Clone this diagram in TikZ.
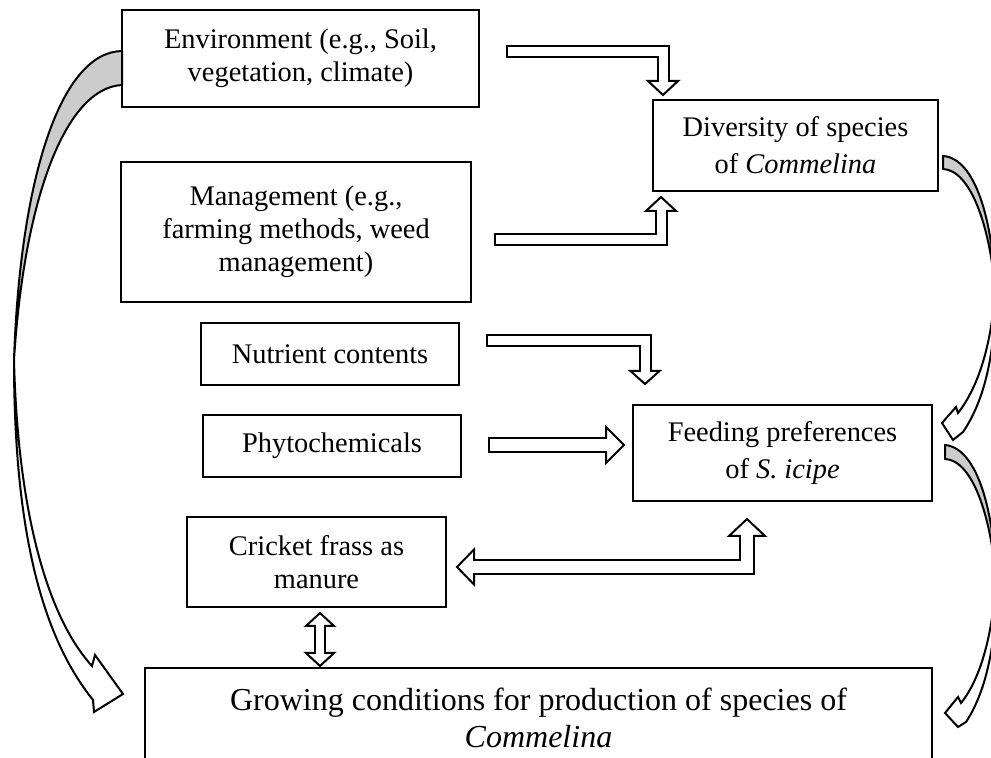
\documentclass[tikz,border=0pt]{standalone}
\usepackage{fontspec}
\setmainfont{Liberation Serif}
\usetikzlibrary{calc,positioning}

\tikzset{
  factor/.style={draw, line width=1pt, align=center, inner sep=0pt, font=\fontsize{14.2}{16.5}\selectfont},
  factorit/.style={factor, font=\fontsize{14.2}{18.5}\selectfont},
  blkhead/.style={draw, fill=white, line width=1pt, line join=miter},
  shaftout/.style={draw=black, line width=#1, line join=miter},
  shaftin/.style={draw=white, line width=#1, line join=miter, shorten <=1pt, shorten >=-1.5pt},
  shaftinboth/.style={shaftin=#1, shorten <=-1.5pt},
  backface/.style={draw, line width=1pt, line join=round, fill=gray!40},
  frontface/.style={draw, line width=1pt, line join=miter, fill=white}
}
% hollow block arrow: head at a point, then shaft
\newcommand{\bhead}[4]{\draw[blkhead, shift={(#1)}, rotate=#2] (0,-#3) -- (#4,0) -- (0,#3) -- cycle;}
\newcommand{\bshaft}[3]{\draw[shaftout=#1] #3; \draw[shaftin=#2] #3;}
\newcommand{\bshafttwo}[3]{\draw[shaftout=#1] #3; \draw[shaftinboth=#2] #3;}

\begin{document}
\begin{tikzpicture}[x=0.5pt,y=-0.5pt]
  \clip (0,0) rectangle (991,758);

  % factors
  \node[factor, minimum width=178.5pt, minimum height=48.5pt] (env) at (300.5,58.5)
    {Environment (e.g., Soil,\\vegetation, climate)};
  \node[factor, minimum width=175pt, minimum height=70pt] (mgmt) at (296,232)
    {Management (e.g.,\\farming methods, weed\\management)};
  \node[factorit, minimum width=142.5pt, minimum height=45.5pt] (div) at (795.5,145.5)
    {Diversity of species\\of \textit{Commelina}};
  \node[factor, minimum width=129pt, minimum height=31pt] (nutr) at (330,354)
    {Nutrient contents};
  \node[factor, minimum width=129pt, minimum height=31pt] (phyto) at (332,446)
    {Phytochemicals};
  \node[factor, minimum width=129.5pt, minimum height=45pt] (cricket) at (316.5,562)
    {Cricket frass as\\manure};
  \node[factorit, minimum width=149.5pt, minimum height=48pt] (feed) at (782.5,453)
    {Feeding preferences\\of \textit{S. icipe}};
  \node[factor, font=\fontsize{16}{18.5}\selectfont, minimum width=393.5pt, minimum height=50pt] (grow) at (538.5,718)
    {Growing conditions for production of species of\\\textit{Commelina}};

  % block arrows
  \coordinate (a1s) at ($(env.east)+(26,-7)$);
  \coordinate (a1e) at ($(div.north west)+(11,-18)$);
  \bhead{a1e}{-90}{15}{14}
  \bshaft{6.5pt}{4.5pt}{(a1s) -| (a1e)}

  \coordinate (a2s) at ($(mgmt.east)+(22,8)$);
  \coordinate (a2e) at ($(div.south west)+(9,19)$);
  \bhead{a2e}{90}{15}{14}
  \bshaft{6.5pt}{4.5pt}{(a2s) -| (a2e)}

  \coordinate (a3s) at ($(nutr.east)+(26,-13)$);
  \coordinate (a3e) at ($(feed.north west)+(13,-33)$);
  \bhead{a3e}{-90}{14.5}{13}
  \bshaft{6.5pt}{4.5pt}{(a3s) -| (a3e)}

  \coordinate (a4s) at ($(phyto.east)+(26,-1)$);
  \coordinate (a4e) at ($(feed.west)+(-26,-8)$);
  \bhead{a4e}{0}{18}{18}
  \bshaft{8pt}{6pt}{(a4s) -- (a4e)}

  \coordinate (a5s) at ($(cricket.east)+(27,5)$);
  \coordinate (a5e) at ($(feed.south west)+(115,34)$);
  \bhead{a5s}{180}{17.5}{17}
  \bhead{a5e}{90}{18}{17}
  \bshafttwo{8pt}{6pt}{(a5s) -| (a5e)}

  \coordinate (a6s) at ($(cricket.south)+(3.5,18)$);
  \coordinate (a6e) at ($(cricket.south)+(3.5,45)$);
  \bhead{a6s}{90}{14}{13}
  \bhead{a6e}{-90}{14}{13}
  \bshafttwo{6pt}{4pt}{(a6s) -- (a6e)}

  % curved arrows
  \draw[backface] (122,51) .. controls (60,52) and (20,180) .. (14,360)
    .. controls (24,200) and (65,88) .. (122,85) -- cycle;
  \draw[frontface] (14,360) .. controls (14,540) and (45,640) .. (93,700)
    -- (94,712) -- (123,694) -- (95,655) -- (92,666)
    .. controls (50,620) and (18,520) .. (14,360) -- cycle;

  \draw[backface] (943,156) .. controls (975,158) and (993,220) .. (995,290)
    .. controls (990,225) and (970,170) .. (943,169) -- cycle;
  \draw[frontface] (995,290) .. controls (996,350) and (985,400) .. (963,432)
    -- (953,440) -- (942,423) -- (956,407) -- (958,413)
    .. controls (980,385) and (992,340) .. (995,290) -- cycle;

  \draw[backface] (945,445) .. controls (977,448) and (994,510) .. (996,580)
    .. controls (991,515) and (972,460) .. (945,459) -- cycle;
  \draw[frontface] (996,580) .. controls (997,640) and (987,690) .. (966,722)
    -- (958,727) -- (945,713) -- (958,697) -- (961,703)
    .. controls (982,677) and (993,630) .. (996,580) -- cycle;
\end{tikzpicture}
\end{document}
